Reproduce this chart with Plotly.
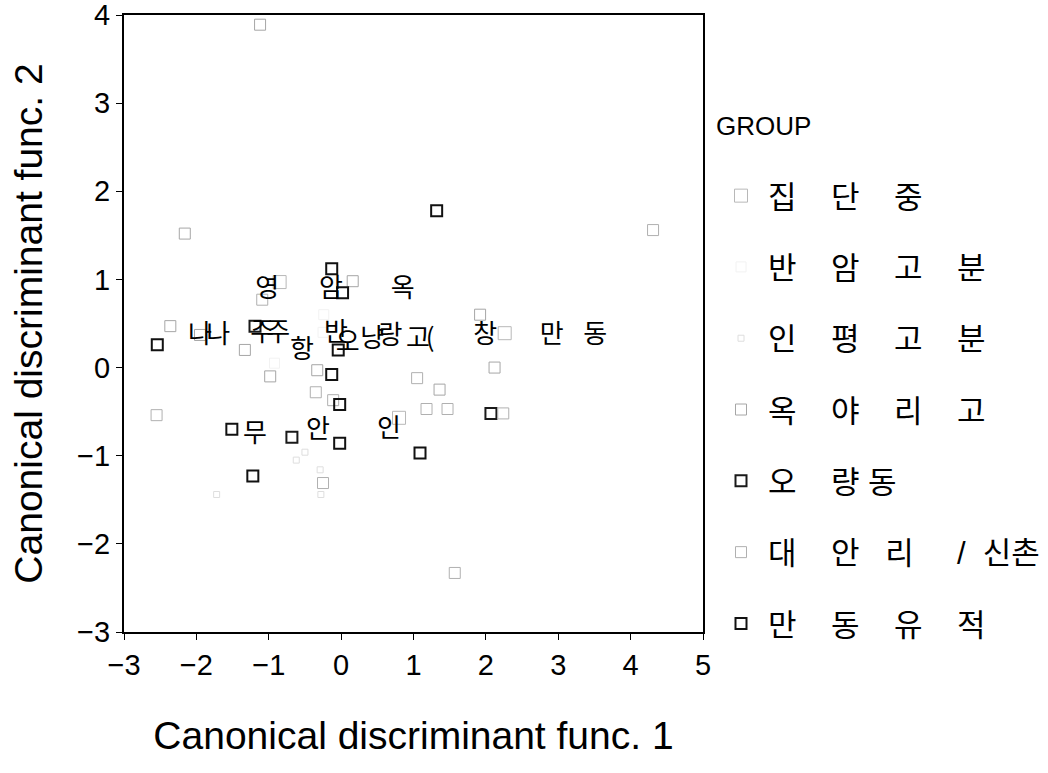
import plotly.graph_objects as go

# ---- data (canonical discriminant scores) ----
centroid_x = [-0.85, 2.26, 0.80]
centroid_y = [0.97, 0.39, -0.57]

banam_x = [-0.24, -0.25, -0.92]
banam_y = [0.60, 0.40, 0.05]

inpyeong_x = [-0.50, -0.29, -1.72, -0.28, -0.62]
inpyeong_y = [-0.96, -1.16, -1.44, -1.44, -1.05]

okya_x = [-1.12, -2.16, 0.16, -2.36, -1.95, -1.33, -0.98, -0.33, 1.92, 2.12, 1.36]
okya_y = [3.89, 1.52, 0.98, 0.47, 0.37, 0.20, -0.10, -0.03, 0.60, 0.00, -0.25]

oryang_x = [-1.19, -0.68, 2.07]
oryang_y = [0.47, -0.79, -0.52]

daean_x = [4.31, -0.35, -2.55, -0.25, 1.05, 1.18, 1.47, 2.24, 1.57, -0.11, -1.09]
daean_y = [1.56, -0.28, -0.54, -1.31, -0.12, -0.47, -0.47, -0.52, -2.33, -0.37, 0.77]

mandong_x = [-0.13, 0.02, -2.54, -0.04, -0.13, -0.02, -1.51, -0.02, -1.22, 1.09, 1.32]
mandong_y = [1.12, 0.85, 0.26, 0.20, -0.08, -0.42, -0.70, -0.86, -1.23, -0.97, 1.78]

# centroid labels (overlapping glyphs as printed)
label_text = ["영", "암", "옥",
              "나", "나", "주", "주", "항", "반", "오", "냥", "랑", "고", "(",
              "창", "만", "동",
              "무", "안", "인"]
label_x = [-1.02, -0.14, 0.85,
           -1.95, -1.70, -1.09, -0.87, -0.54, -0.07, 0.09, 0.43, 0.68, 1.06, 1.23,
           1.99, 2.91, 3.51,
           -1.19, -0.32, 0.66]
label_y = [0.88, 0.88, 0.88,
           0.35, 0.35, 0.37, 0.37, 0.18, 0.38, 0.26, 0.31, 0.34, 0.31, 0.31,
           0.35, 0.35, 0.35,
           -0.77, -0.73, -0.71]

S = "\u00a0"
group_names = [
    "집" + S * 4 + "단" + S * 4 + "중",
    "반" + S * 4 + "암" + S * 4 + "고" + S * 4 + "분",
    "인" + S * 4 + "평" + S * 4 + "고" + S * 4 + "분",
    "옥" + S * 4 + "야" + S * 4 + "리" + S * 4 + "고",
    "오" + S * 4 + "량" + S * 1 + "동",
    "대" + S * 4 + "안" + S * 3 + "리" + S * 5 + "/" + S * 2 + "신" + "촌",
    "만" + S * 4 + "동" + S * 4 + "유" + S * 4 + "적",
]

FONT = "Liberation Sans, Arial, Noto Sans CJK KR, sans-serif"

fig = go.Figure()

groups = [
    (centroid_x, centroid_y, dict(symbol="square-open", size=13, color="#b8b8b8", line=dict(width=1))),
    (banam_x, banam_y, dict(symbol="square-open", size=10, color="#f2f2f2", line=dict(width=1))),
    (inpyeong_x, inpyeong_y, dict(symbol="square-open", size=6, color="#dedede", line=dict(width=1))),
    (okya_x, okya_y, dict(symbol="square-open", size=11, color="#a6a6a6", line=dict(width=1))),
    (oryang_x, oryang_y, dict(symbol="square-open", size=11, color="#1a1a1a", line=dict(width=2))),
    (daean_x, daean_y, dict(symbol="square-open", size=11, color="#b0b0b0", line=dict(width=1))),
    (mandong_x, mandong_y, dict(symbol="square-open", size=11, color="#111111", line=dict(width=2))),
]

for i, ((gx, gy, mk), name) in enumerate(zip(groups, group_names)):
    fig.add_trace(go.Scatter(
        x=gx, y=gy, mode="markers", name=name, marker=mk,
        legendgroup=f"g{i}", showlegend=True,
    ))

fig.add_trace(go.Scatter(
    x=label_x, y=label_y, mode="text", text=label_text,
    textfont=dict(size=26, color="black", family="Noto Sans CJK KR, sans-serif"),
    textposition="middle center", showlegend=False, hoverinfo="skip",
))

axis_common = dict(
    showgrid=False, zeroline=False,
    showline=True, linecolor="black", linewidth=2, mirror=True,
    ticks="outside", ticklen=6, tickwidth=1, tickcolor="black",
    tickfont=dict(size=29, color="black", family=FONT),
    dtick=1, automargin=False, ticklabeloverflow="allow",
)

fig.update_layout(
    width=1048, height=773,
    margin=dict(l=124, r=345, t=15, b=141, autoexpand=False),
    paper_bgcolor="white", plot_bgcolor="white",
    font=dict(family=FONT, color="black"),
    xaxis=dict(range=[-3, 5], **axis_common,
               title=dict(text="Canonical discriminant func. 1",
                          font=dict(size=39, color="black", family=FONT), standoff=42)),
    yaxis=dict(range=[-3, 4], **axis_common,
               title=dict(text="Canonical discriminant func. 2",
                          font=dict(size=39, color="black", family=FONT), standoff=22)),
    legend=dict(
        title=dict(text="GROUP<br> ", font=dict(size=26, color="black", family=FONT)),
        font=dict(size=31, color="black", family=FONT),
        x=1.019, xanchor="left", y=0.86, yanchor="top",
        tracegroupgap=28, itemwidth=44, bgcolor="rgba(0,0,0,0)",
        itemsizing="trace",
    ),
)

fig.write_html("out.html",
               config={"displayModeBar": False},
               post_script="document.body.style.margin='0';document.body.style.overflow='hidden';")
